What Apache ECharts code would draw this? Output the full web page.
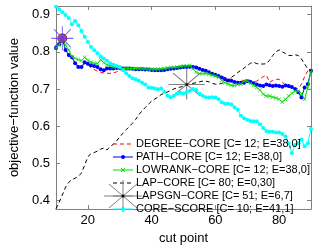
<!DOCTYPE html>
<html><head><meta charset="utf-8">
<script src="https://cdn.jsdelivr.net/npm/echarts@6/dist/echarts.min.js"></script>
<style>html,body{margin:0;padding:0;background:#fff}#c{width:316px;height:250px}</style>
</head><body><div id="c"></div>
<script>
const cutPoints = [10,11,12,13,14,15,16,17,18,19,20,21,22,23,24,25,26,27,28,29,30,31,32,33,34,35,36,37,38,39,40,41,42,43,44,45,46,47,48,49,50,51,52,53,54,55,56,57,58,59,60,61,62,63,64,65,66,67,68,69,70,71,72,73,74,75,76,77,78,79,80,81,82,83,84,85,86,87,88,89,90];

const degreeCore = [0.810,0.820,0.836,0.805,0.790,0.785,0.770,0.762,0.760,0.768,
0.765,0.757,0.752,0.748,0.745,0.743,0.742,0.742,0.743,0.746,
0.750,0.753,0.754,0.755,0.755,0.754,0.754,0.754,0.753,0.753,
0.752,0.752,0.752,0.752,0.753,0.754,0.755,0.756,0.757,0.758,
0.759,0.760,0.760,0.758,0.756,0.753,0.750,0.750,0.744,0.738,
0.735,0.732,0.732,0.731,0.728,0.726,0.718,0.717,0.721,0.723,
0.725,0.723,0.719,0.721,0.727,0.733,0.737,0.718,0.723,0.726,
0.726,0.718,0.710,0.705,0.704,0.701,0.700,0.713,0.733,0.749,
0.749];

const pathCore = [0.810,0.820,0.836,0.805,0.791,0.785,0.769,0.759,0.759,0.772,
0.768,0.764,0.762,0.759,0.753,0.750,0.755,0.755,0.755,0.756,
0.756,0.755,0.755,0.755,0.754,0.753,0.753,0.753,0.752,0.752,
0.751,0.750,0.750,0.750,0.751,0.753,0.754,0.755,0.756,0.758,
0.759,0.759,0.760,0.759,0.758,0.754,0.751,0.749,0.745,0.741,
0.738,0.735,0.731,0.726,0.723,0.722,0.719,0.717,0.717,0.717,
0.721,0.719,0.715,0.712,0.709,0.708,0.712,0.710,0.708,0.709,
0.708,0.706,0.709,0.708,0.705,0.700,0.691,0.677,0.704,0.713,
0.749];

const lowrankCore = [0.810,0.818,0.836,0.818,0.805,0.787,0.782,0.779,0.776,0.785,
0.777,0.772,0.769,0.768,0.779,0.771,0.765,0.763,0.759,0.758,
0.756,0.755,0.755,0.755,0.755,0.755,0.754,0.754,0.754,0.753,
0.753,0.753,0.753,0.754,0.755,0.756,0.758,0.758,0.759,0.760,
0.762,0.762,0.763,0.754,0.745,0.741,0.741,0.741,0.740,0.737,
0.735,0.731,0.723,0.717,0.713,0.710,0.709,0.712,0.713,0.721,
0.721,0.715,0.710,0.704,0.697,0.686,0.681,0.681,0.678,0.676,
0.672,0.665,0.672,0.681,0.688,0.694,0.694,0.688,0.672,0.705,
0.749];

const lapCore = [0.378,0.395,0.415,0.436,0.449,0.456,0.460,0.465,0.474,0.495,
0.518,0.526,0.529,0.533,0.538,0.541,0.536,0.545,0.551,0.560,
0.571,0.581,0.590,0.599,0.608,0.618,0.631,0.641,0.650,0.659,
0.667,0.673,0.678,0.685,0.688,0.692,0.696,0.700,0.703,0.705,
0.708,0.712,0.714,0.715,0.717,0.719,0.721,0.721,0.719,0.715,
0.713,0.713,0.715,0.718,0.723,0.731,0.737,0.744,0.750,0.756,
0.763,0.769,0.772,0.768,0.767,0.767,0.768,0.777,0.790,0.800,
0.805,0.800,0.795,0.790,0.790,0.792,0.790,0.781,0.767,0.754,
0.749];

const coreScore = [0.921,0.914,0.906,0.899,0.891,0.874,0.883,0.871,0.856,0.840,
0.826,0.813,0.804,0.796,0.788,0.782,0.776,0.769,0.765,0.762,
0.759,0.750,0.742,0.735,0.729,0.726,0.722,0.717,0.712,0.704,
0.703,0.701,0.699,0.701,0.692,0.682,0.678,0.682,0.687,0.690,
0.688,0.691,0.695,0.700,0.697,0.687,0.682,0.678,0.677,0.678,
0.677,0.672,0.664,0.660,0.660,0.658,0.651,0.644,0.628,0.621,
0.617,0.614,0.613,0.613,0.605,0.595,0.587,0.585,0.585,0.583,
0.583,0.579,0.572,0.554,0.528,0.549,0.554,0.564,0.546,0.554,
0.592];

// chosen cut points (C) and their values
const chosenDegree = [12, 0.836];
const chosenPath = [12, 0.836];
const lapsgnPoint = [51, 0.712];

const seriesNames = ['DEGREE−CORE [C= 12; E=38,0]','PATH−CORE [C= 12; E=38,0]','LOWRANK−CORE [C= 12; E=38,0]','LAP−CORE [C= 80; E=0,30]','LAPSGN−CORE [C= 51; E=6,7]','CORE−SCORE [C= 10; E=41,1]'];
const xTicks = [20,40,60,80];
const yTicks = [0.4,0.5,0.6,0.7,0.8,0.9];

const pairs = arr => cutPoints.map((x,i)=>[x,arr[i]]);
const FONT = 'Liberation Sans, Arial, Helvetica, sans-serif';
const AX = '#808080';
const STAR = 'path://M0,5L10,5M5,0L5,10M1.2,1.2L8.8,8.8M8.8,1.2L1.2,8.8';
const XMARK = 'path://M0,1L1,0L5,4L9,0L10,1L6,5L10,9L9,10L5,6L1,10L0,9L4,5Z';
const COLORS = ['#ff0000','#0000ff','#00e000','#000000','#808080','#00ffff'];

// legend drawn as graphic (line icon + marker + text)
const LEG_X0 = 113, LEG_X1 = 133, LEG_TX = 136, LEG_Y0 = 144, LEG_DY = 13;
const legendGraphic = [];
seriesNames.forEach((name,i)=>{
  const y = LEG_Y0 + i*LEG_DY;
  const dashed = (i===0 || i===3);
  legendGraphic.push({type:'line',silent:true,z:100,shape:{x1:LEG_X0,y1:y,x2:LEG_X1,y2:y},
    style:{stroke:COLORS[i],lineWidth:1,lineDash:dashed?[4,3]:null}});
  const cx = (LEG_X0+LEG_X1)/2;
  if(i===1 || i===5){
    legendGraphic.push({type:'circle',silent:true,z:101,shape:{cx:cx,cy:y,r:2},style:{fill:COLORS[i]}});
  } else if(i===2){
    legendGraphic.push({type:'line',silent:true,z:101,shape:{x1:cx-2,y1:y-2,x2:cx+2,y2:y+2},style:{stroke:COLORS[i],lineWidth:1}});
    legendGraphic.push({type:'line',silent:true,z:101,shape:{x1:cx+2,y1:y-2,x2:cx-2,y2:y+2},style:{stroke:COLORS[i],lineWidth:1}});
  } else if(i===4){
    legendGraphic.push({type:'line',silent:true,z:101,shape:{x1:cx-19,y1:y,x2:cx+19,y2:y},style:{stroke:'#808080',lineWidth:1}});
    legendGraphic.push({type:'line',silent:true,z:101,shape:{x1:cx,y1:y-16,x2:cx,y2:y+16},style:{stroke:'#808080',lineWidth:1}});
    legendGraphic.push({type:'line',silent:true,z:101,shape:{x1:cx-14,y1:y-12,x2:cx+14,y2:y+12},style:{stroke:'#808080',lineWidth:1}});
    legendGraphic.push({type:'line',silent:true,z:101,shape:{x1:cx+14,y1:y-12,x2:cx-14,y2:y+12},style:{stroke:'#808080',lineWidth:1}});
    legendGraphic.push({type:'circle',silent:true,z:102,shape:{cx:cx,cy:y,r:1.5},style:{fill:'#000'}});
  }
  legendGraphic.push({type:'text',silent:true,z:103,x:LEG_TX,y:y,
    style:{text:name,fill:'#000',fontSize:11,fontFamily:FONT,verticalAlign:'middle',align:'left'}});
});

const chart = echarts.init(document.getElementById('c'), null, {renderer:'canvas'});
const axisCommon = {
  axisLine:{show:true,lineStyle:{color:AX,width:1}},
  splitLine:{show:false}
};
chart.setOption({
  animation:false,
  textStyle:{fontFamily:FONT},
  grid:{left:40,right:5,top:6,bottom:31,containLabel:false},
  xAxis:[
    Object.assign({type:'value',min:10,max:90,position:'bottom',
      axisTick:{show:true,inside:true,length:4,customValues:xTicks,lineStyle:{color:AX}},
      axisLabel:{customValues:xTicks,fontSize:13,color:'#000',margin:5,fontFamily:FONT},
      name:'cut point',nameLocation:'middle',nameGap:21,
      nameTextStyle:{fontSize:13,color:'#000',fontFamily:FONT}},axisCommon),
    Object.assign({type:'value',min:10,max:90,position:'top',
      axisTick:{show:true,inside:true,length:4,customValues:xTicks,lineStyle:{color:AX}},
      axisLabel:{show:false}},axisCommon)
  ],
  yAxis:[
    Object.assign({type:'value',min:0.377,max:0.923,position:'left',
      axisTick:{show:true,inside:true,length:4,customValues:yTicks,lineStyle:{color:AX}},
      axisLabel:{customValues:yTicks,fontSize:13,color:'#000',margin:6,fontFamily:FONT,formatter:v=>v.toFixed(1)},
      name:'objective−function value',nameLocation:'middle',nameGap:29,
      nameTextStyle:{fontSize:13,color:'#000',fontFamily:FONT}},axisCommon),
    Object.assign({type:'value',min:0.377,max:0.923,position:'right',
      axisTick:{show:true,inside:true,length:4,customValues:yTicks,lineStyle:{color:AX}},
      axisLabel:{show:false}},axisCommon)
  ],
  series:[
    {name:seriesNames[0],type:'line',data:pairs(degreeCore),showSymbol:false,symbol:'none',
      lineStyle:{color:COLORS[0],width:1,type:[4,3]},itemStyle:{color:COLORS[0]},z:2},
    {name:seriesNames[1],type:'line',data:pairs(pathCore),symbol:'circle',symbolSize:4,showAllSymbol:true,
      lineStyle:{color:COLORS[1],width:1},itemStyle:{color:COLORS[1]},z:3},
    {name:seriesNames[2],type:'line',data:pairs(lowrankCore),symbol:XMARK,symbolSize:4,showAllSymbol:true,
      lineStyle:{color:COLORS[2],width:1},itemStyle:{color:COLORS[2]},z:4},
    {name:seriesNames[3],type:'line',data:pairs(lapCore),showSymbol:false,symbol:'none',
      lineStyle:{color:COLORS[3],width:1,type:[4,3]},itemStyle:{color:COLORS[3]},z:5},
    {name:seriesNames[4],type:'line',data:[lapsgnPoint],symbol:STAR,symbolSize:[36,30],
      lineStyle:{color:COLORS[4],width:1},itemStyle:{color:'rgba(0,0,0,0)',borderColor:COLORS[4],borderWidth:1},z:6},
    {name:seriesNames[5],type:'line',data:pairs(coreScore),symbol:'circle',symbolSize:4,showAllSymbol:true,
      lineStyle:{color:COLORS[5],width:1},itemStyle:{color:COLORS[5]},z:7},
    {name:'lapsgn-center',type:'scatter',data:[lapsgnPoint],symbol:'circle',symbolSize:3,itemStyle:{color:'#000'},z:8},
    {name:'degree-chosen',type:'scatter',data:[chosenDegree],symbol:'circle',symbolSize:9,
      itemStyle:{color:'#e8102a',borderColor:'#8a0010',borderWidth:1},z:8},
    {name:'path-chosen',type:'scatter',data:[chosenPath],symbol:STAR,symbolSize:[22,24],
      itemStyle:{color:'rgba(0,0,0,0)',borderColor:'#4a4aff',borderWidth:1},z:9}
  ],
  graphic:legendGraphic
});
</script></body></html>
